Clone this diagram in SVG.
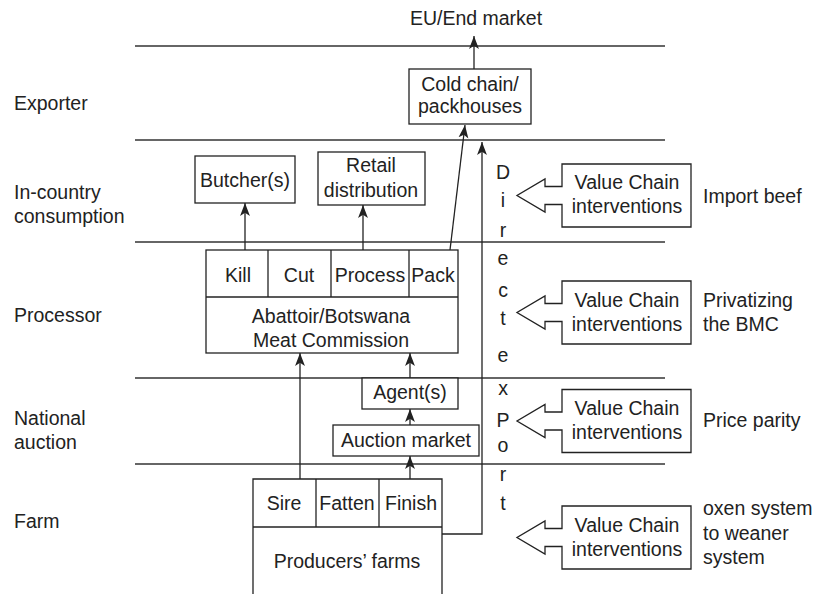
<svg xmlns="http://www.w3.org/2000/svg" width="813" height="594" viewBox="0 0 813 594">
<style>
text{font-family:"Liberation Sans",Arial,sans-serif;font-size:19.5px;fill:#222}
.m{text-anchor:middle}
.band{stroke:#333;stroke-width:1.5;fill:none}
.box{fill:#fff;stroke:#222;stroke-width:1.3}
.ln{stroke:#222;stroke-width:1.3;fill:none}
.con{stroke:#222;stroke-width:1.3;fill:none;marker-end:url(#ah)}
</style>
<defs>
<marker id="ah" viewBox="0 0 10 10" refX="10" refY="5" markerWidth="13" markerHeight="13" markerUnits="userSpaceOnUse" orient="auto">
<path d="M0,1.2 L10,5 L0,8.8 L2.5,5 z" fill="#222"/>
</marker>
<path id="vca" d="M562,-9 V-31.5 H691 V31.5 H562 V9 H545 V16.5 L517,0 L545,-16.5 V-9 Z"/>
</defs>
<rect width="813" height="594" fill="#fff"/>
<g id="bands">
<line class="band" x1="135" y1="46" x2="665" y2="46"/>
<line class="band" x1="135" y1="140" x2="665" y2="140"/>
<line class="band" x1="135" y1="242" x2="665" y2="242"/>
<line class="band" x1="135" y1="378" x2="665" y2="378"/>
<line class="band" x1="135" y1="464" x2="665" y2="464"/>
</g>
<g id="stage-labels">
<text x="14" y="110">Exporter</text>
<text x="14" y="199">In-country</text>
<text x="14" y="223">consumption</text>
<text x="14" y="322">Processor</text>
<text x="14" y="425">National</text>
<text x="14" y="449">auction</text>
<text x="14" y="528">Farm</text>
</g>
<g id="eu-market"><text class="m" x="476" y="25">EU/End market</text></g>
<g id="cold-chain">
<rect class="box" x="409" y="69" width="122" height="55"/>
<text class="m" x="470" y="91">Cold chain/</text>
<text class="m" x="470" y="113">packhouses</text>
</g>
<g id="butchers">
<rect class="box" x="195" y="156" width="100" height="47"/>
<text class="m" x="245" y="187">Butcher(s)</text>
</g>
<g id="retail">
<rect class="box" x="318" y="152" width="107" height="53"/>
<text class="m" x="371" y="172">Retail</text>
<text class="m" x="371" y="197">distribution</text>
</g>
<g id="processor">
<rect class="box" x="206" y="250" width="252" height="103"/>
<line class="ln" x1="206" y1="297" x2="458" y2="297"/>
<line class="ln" x1="268" y1="250" x2="268" y2="297"/>
<line class="ln" x1="331" y1="250" x2="331" y2="297"/>
<line class="ln" x1="409" y1="250" x2="409" y2="297"/>
<text class="m" x="238" y="282">Kill</text>
<text class="m" x="299" y="282">Cut</text>
<text class="m" x="370" y="282">Process</text>
<text class="m" x="433" y="282">Pack</text>
<text class="m" x="331" y="323">Abattoir/Botswana</text>
<text class="m" x="331" y="347">Meat Commission</text>
</g>
<g id="agents">
<rect class="box" x="362" y="378" width="96" height="31"/>
<text class="m" x="410" y="399">Agent(s)</text>
</g>
<g id="auction-market">
<rect class="box" x="333" y="425" width="146" height="31"/>
<text class="m" x="406" y="447">Auction market</text>
</g>
<g id="producers-farms">
<path class="box" d="M253,600 V479 H442 V600"/>
<line class="ln" x1="253" y1="527" x2="442" y2="527"/>
<line class="ln" x1="316" y1="479" x2="316" y2="527"/>
<line class="ln" x1="379" y1="479" x2="379" y2="527"/>
<text class="m" x="284" y="510">Sire</text>
<text class="m" x="347" y="510">Fatten</text>
<text class="m" x="411" y="510">Finish</text>
<text class="m" x="347" y="568">Producers’ farms</text>
</g>
<g id="direct-export-label">
<text class="m" x="503" y="179">D</text>
<text class="m" x="503" y="207">i</text>
<text class="m" x="503" y="237">r</text>
<text class="m" x="503" y="265">e</text>
<text class="m" x="503" y="297">c</text>
<text class="m" x="503" y="325">t</text>
<text class="m" x="503" y="362">e</text>
<text class="m" x="503" y="395">x</text>
<text class="m" x="503" y="427">P</text>
<text class="m" x="503" y="452">o</text>
<text class="m" x="503" y="481">r</text>
<text class="m" x="503" y="510">t</text>
</g>
<g id="connectors">
<line class="con" x1="474" y1="69" x2="474" y2="36"/>
<line class="con" x1="450" y1="250" x2="465" y2="125"/>
<line class="con" x1="245" y1="250" x2="245" y2="203"/>
<line class="con" x1="363" y1="250" x2="363" y2="205"/>
<line class="con" x1="410" y1="378" x2="410" y2="353"/>
<line class="con" x1="410" y1="425" x2="410" y2="409"/>
<line class="con" x1="410" y1="479" x2="410" y2="456"/>
<line class="con" x1="300" y1="479" x2="300" y2="353"/>
<polyline class="con" points="442,534 482,534 482,142"/>
</g>
<g id="vc-import-beef">
<use href="#vca" class="box" transform="translate(0,195.5)"/>
<text class="m" x="627" y="189">Value Chain</text>
<text class="m" x="627" y="213">interventions</text>
<text x="703" y="203">Import beef</text>
</g>
<g id="vc-privatizing">
<use href="#vca" class="box" transform="translate(0,312.5)"/>
<text class="m" x="627" y="307">Value Chain</text>
<text class="m" x="627" y="331">interventions</text>
<text x="703" y="307">Privatizing</text>
<text x="703" y="331">the BMC</text>
</g>
<g id="vc-price-parity">
<use href="#vca" class="box" transform="translate(0,421)"/>
<text class="m" x="627" y="415">Value Chain</text>
<text class="m" x="627" y="439">interventions</text>
<text x="703" y="427">Price parity</text>
</g>
<g id="vc-weaner">
<use href="#vca" class="box" transform="translate(0,537.5)"/>
<text class="m" x="627" y="532">Value Chain</text>
<text class="m" x="627" y="556">interventions</text>
<text x="703" y="515">oxen system</text>
<text x="703" y="540">to weaner</text>
<text x="703" y="564">system</text>
</g>
</svg>
